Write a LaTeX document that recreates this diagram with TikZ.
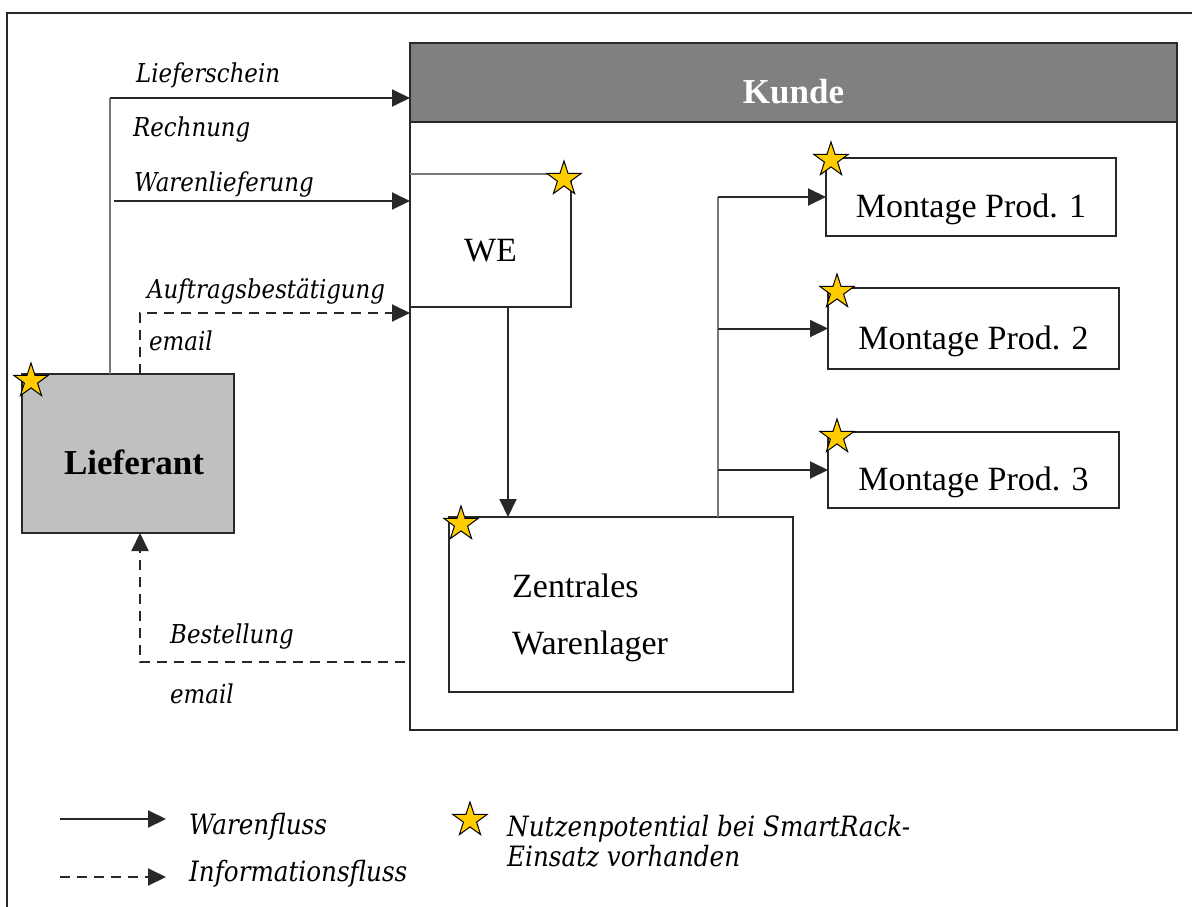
\documentclass[tikz,border=0pt]{standalone}
\usepackage{fontspec}
\setmainfont{Liberation Serif}
\newfontfamily\labfont[FakeStretch=0.88]{DejaVu Serif}
\usetikzlibrary{shapes.geometric,arrows.meta}

\definecolor{starfill}{RGB}{255,204,0}
\definecolor{kopfgrau}{RGB}{128,128,128}
\definecolor{liefgrau}{RGB}{192,192,192}
\definecolor{linie}{RGB}{40,40,40}
\definecolor{hell}{RGB}{120,120,120}

\tikzset{
  box/.style={draw=linie, line width=1.8pt, fill=white, inner sep=0pt, outer sep=0pt,
    anchor=north west, text height=41pt, text depth=0pt,
    font=\fontsize{34}{40}\selectfont},
  flow/.style={draw=linie, line width=2pt, -{Triangle[length=18pt,width=17pt]}},
  info/.style={flow, dash pattern=on 10pt off 7pt},
  stem/.style={draw=hell, line width=2pt},
  lab/.style={anchor=base west, inner sep=0pt, font=\labfont\itshape\fontsize{26}{30}\selectfont},
  leglab/.style={lab, font=\labfont\itshape\fontsize{28}{32}\selectfont},
  stern/.style={star, star points=5, star point ratio=2.6, draw=black, line width=1pt,
    fill=starfill, minimum size=36pt, inner sep=0pt},
}

\begin{document}
\begin{tikzpicture}[x=1pt,y=-1pt]
\useasboundingbox (0,0) rectangle (1192,907);
% page frame
\draw[linie, line width=2pt] (7,907) -- (7,13) -- (1192,13);

% customer area with header bar
\node[box, minimum width=767pt, minimum height=687pt] (kunde) at (410,43) {};
\node[box, fill=kopfgrau, minimum width=767pt, minimum height=79pt, text=white,
  font=\bfseries\fontsize{35}{40}\selectfont] (kopf) at (410,43) {Kunde};

% boxes
\node[box, minimum width=161pt, minimum height=133pt] (we) at (410,174) {WE};
\draw[stem] (we.north west) -- (we.north east);
\node[box, minimum width=344pt, minimum height=175pt] (lager) at (449,517) {};
\node[anchor=base west, align=left, inner sep=0pt, font=\fontsize{34}{57}\selectfont]
  (lagertxt) at ([xshift=63pt,yshift=-137pt]lager.north west) {Zentrales\\Warenlager};
\node[box, minimum width=290pt, minimum height=78pt] (m1) at (826,158) {Montage Prod. 1};
\node[box, minimum width=291pt, minimum height=81pt] (m2) at (828,288) {Montage Prod. 2};
\node[box, minimum width=291pt, minimum height=76pt] (m3) at (828,432) {Montage Prod. 3};
\node[box, fill=liefgrau, minimum width=212pt, minimum height=159pt] (lief) at (22,374) {};
\node[inner sep=0pt, text height=41pt, text depth=0pt,
  font=\bfseries\fontsize{35}{40}\selectfont] (lieftxt) at ([xshift=6pt]lief.center) {Lieferant};

% documents to the customer
\coordinate (lsfuss) at ([xshift=88pt]lief.north west);
\coordinate (lsziel) at ([yshift=24pt]kopf.south west);
\draw[stem] (lsfuss) -- (lsfuss |- lsziel);
\draw[flow] (lsfuss |- lsziel) -- (lsziel);

% delivery of goods
\coordinate (wlstart) at (114,201);
\draw[flow] (wlstart) -- (wlstart -| we.west);

% order confirmation (information)
\draw[info] ([xshift=118pt]lief.north west) |- ([yshift=-6pt]we.south west);

% order (information)
\coordinate (bst) at (405,662);
\draw[info] (bst) -| ([xshift=118pt]lief.south west);

% goods receipt to central store
\draw[flow] ([xshift=98pt]we.south west) -- ([xshift=59pt]lager.north west);

% distribution to assembly
\coordinate (tr) at ([xshift=269pt]lager.north west);
\draw[stem] (tr) -- (tr |- m1.west);
\draw[flow] (tr |- m1.west) -- (m1.west);
\draw[flow] (tr |- m2.west) -- (m2.west);
\draw[flow] (tr |- m3.west) -- (m3.west);

% connector labels
\node[lab] (t1) at (136,82) {Lieferschein};
\node[lab] (t2) at (133,136) {Rechnung};
\node[lab] (t3) at (134,191) {Warenlieferung};
\node[lab] (t4) at (147,298) {Auftragsbestätigung};
\node[lab] (t5) at (149,350) {email};
\node[lab] (t6) at (170,643) {Bestellung};
\node[lab] (t7) at (170,703) {email};

% stars
\node[stern] (s1) at (564,179) {};
\node[stern] (s2) at (31,381) {};
\node[stern] (s3) at (831,160) {};
\node[stern] (s4) at (837,292) {};
\node[stern] (s5) at (837,437) {};
\node[stern] (s6) at (461,524) {};

% legend
\coordinate (lega) at (60,819);
\coordinate (legb) at (166,819);
\coordinate (legc) at (60,877);
\coordinate (legd) at (166,877);
\draw[flow] (lega) -- (legb);
\draw[info] (legc) -- (legd);
\node[leglab] (l1) at (189,834) {Warenfluss};
\node[leglab] (l2) at (189,881) {Informationsfluss};
\node[stern] (s7) at (470,820) {};
\node[leglab] (l3) at (507,836) {Nutzenpotential bei SmartRack-};
\node[leglab] (l4) at (507,866) {Einsatz vorhanden};
\end{tikzpicture}
\end{document}
